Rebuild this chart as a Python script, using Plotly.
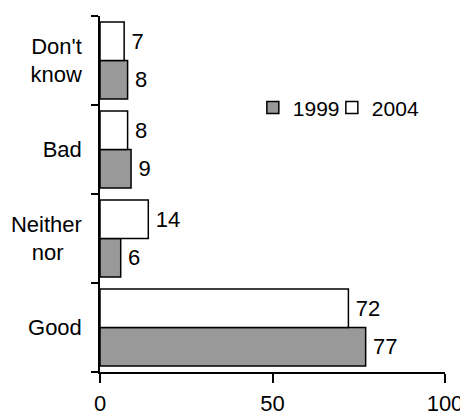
import plotly.graph_objects as go

categories = ["Good", "Neither nor", "Bad", "Don't know"]
category_labels = ["Good", "Neither<br>nor\u00a0\u00a0\u00a0", "Bad", "Don't<br>know"]
values_1999 = [77, 6, 9, 8]
values_2004 = [72, 14, 8, 7]
series_names = ["1999", "2004"]
x_ticks = [0, 50, 100]

FONT = "Liberation Sans, Arial, sans-serif"

fig = go.Figure()
fig.add_trace(go.Bar(
    y=categories, x=values_1999, orientation="h", name=series_names[0],
    marker=dict(color="#999999", line=dict(color="black", width=1.5)),
    text=values_1999, texttemplate="\u2009%{x}", textposition="outside",
    textfont=dict(size=22, color="black", family=FONT), cliponaxis=False,
    legend="legend",
))
fig.add_trace(go.Bar(
    y=categories, x=values_2004, orientation="h", name=series_names[1],
    marker=dict(color="white", line=dict(color="black", width=1.5)),
    text=values_2004, texttemplate="\u2009%{x}", textposition="outside",
    textfont=dict(size=22, color="black", family=FONT), cliponaxis=False,
    legend="legend2",
))

legend_style = dict(orientation="h", xanchor="left", yanchor="middle",
                    font=dict(size=21, family=FONT), bgcolor="rgba(0,0,0,0)",
                    itemwidth=30)

# page body has an 8px margin; figure sized so the plot lands where the reference has it
fig.update_layout(
    width=460, height=408,
    margin=dict(l=92, r=23, t=8, b=44, pad=0, autoexpand=False),
    paper_bgcolor="white", plot_bgcolor="white",
    barmode="group", bargap=0.135, bargroupgap=0,
    font=dict(family=FONT, size=22, color="black"),
    showlegend=True,
    legend=dict(x=0.443, y=0.742, **legend_style),
    legend2=dict(x=0.672, y=0.742, **legend_style),
)
fig.update_xaxes(
    range=[0, 100], tickvals=x_ticks, showgrid=False, zeroline=False, automargin=False,
    showline=True, linecolor="black", linewidth=1.5,
    ticks="outside", ticklen=9, tickwidth=1.5, tickcolor="black",
    tickfont=dict(size=22, family=FONT), ticklabelstandoff=2,
)
fig.update_yaxes(
    type="category", categoryorder="array", categoryarray=categories, automargin=False,
    tickvals=categories, ticktext=category_labels,
    range=[-0.5, 3.5], showgrid=False, zeroline=False,
    showline=True, linecolor="black", linewidth=1.5,
    ticks="outside", tickson="boundaries", ticklen=7, tickwidth=1.5, tickcolor="black",
    tickfont=dict(size=22, family=FONT), ticklabelstandoff=12,
)

fig.write_html("out.html")
